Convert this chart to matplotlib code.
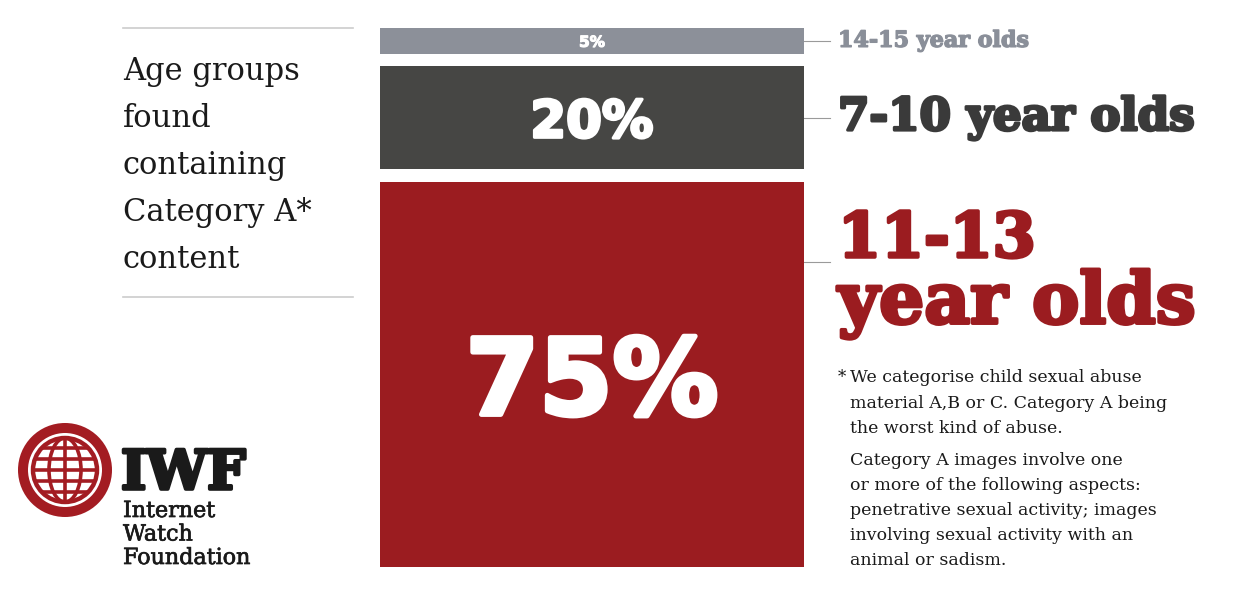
import matplotlib.pyplot as plt
import matplotlib.patheffects as pe
from matplotlib.patches import Circle, Ellipse
from matplotlib.transforms import blended_transform_factory

# age groups, listed top to bottom of the stacked bar
groups = ['14-15 year olds', '7-10 year olds', '11-13 year olds']
shares = [5, 20, 75]
bar_colors = ['#8c9099', '#464644', '#9b1c20']
label_colors = ['#8a8f99', '#3a3a3a', '#9b1c20']

title_lines = ['Age groups', 'found', 'containing', 'Category A*', 'content']
note_1 = ['We categorise child sexual abuse',
          'material A,B or C. Category A being',
          'the worst kind of abuse.']
note_2 = ['Category A images involve one',
          'or more of the following aspects:',
          'penetrative sexual activity; images',
          'involving sexual activity with an',
          'animal or sadism.']

W, H = 1260, 600
GAP = 2.5
SERIF = 'DejaVu Serif'


def heavy(color, w):
    # thicken the bold face a little
    return [pe.Stroke(linewidth=w, foreground=color, joinstyle='round'),
            pe.Normal()]


fig = plt.figure(figsize=(W / 100, H / 100), dpi=100)
fig.patch.set_facecolor('white')

# overlay in pixel units for the text, rules and logo
ov = fig.add_axes([0, 0, 1, 1])
ov.set_xlim(0, W)
ov.set_ylim(H, 0)
ov.axis('off')

# the stacked bar
bx0, bx1, by0, by1 = 380, 804, 28, 567
ax = fig.add_axes([bx0 / W, 1 - by1 / H, (bx1 - bx0) / W, (by1 - by0) / H])
total = sum(shares) + GAP * (len(shares) - 1)
ax.set_xlim(-0.5, 0.5)
ax.set_ylim(0, total)
ax.axis('off')

bottoms = []
b = 0
for v in reversed(shares):
    bottoms.insert(0, b)
    b += v + GAP

pct_sizes = [11, 37, 76]
pct_stroke = [0.8, 2.2, 3.5]
for v, b, c, fs, sw in zip(shares, bottoms, bar_colors, pct_sizes, pct_stroke):
    ax.bar(0, v, bottom=b, width=1.0, color=c, linewidth=0)
    ax.text(0, b + v / 2, f'{v}%', ha='center', va='center_baseline',
            color='white', fontsize=fs, fontweight='bold',
            family='DejaVu Sans', path_effects=heavy('white', sw))

# right-hand labels with short connector lines
tr = blended_transform_factory(ov.transData, ax.transData)
label_y = [bottoms[0] + shares[0] / 2, bottoms[1] + shares[1] / 2,
           bottoms[2] + shares[2] - 15.5]
for i, (g, y) in enumerate(zip(groups, label_y)):
    c = label_colors[i]
    ov.plot([bx1, 830], [y, y], transform=tr, color='#9a9a9a', lw=0.8,
            clip_on=False)
    if i == 0:
        ov.text(838, y, g, transform=tr, ha='left', va='center',
                color=c, fontsize=16, fontweight='bold',
                family=SERIF, path_effects=heavy(c, 1.0))
    elif i == 1:
        ov.text(838, y, g, transform=tr, ha='left', va='center',
                color=c, fontsize=32.5, fontweight='bold',
                family=SERIF, path_effects=heavy(c, 2.2))
    else:
        first, rest = g.split(' ', 1)
        ov.text(838, y + 0.9, first, transform=tr, ha='left', va='baseline',
                color=c, fontsize=44.5, fontweight='bold',
                family=SERIF, path_effects=heavy(c, 2.6))
        ov.text(838, y - 12.0, rest, transform=tr, ha='left', va='baseline',
                color=c, fontsize=51, fontweight='bold',
                family=SERIF, path_effects=heavy(c, 2.6))

# left heading between two rules
for ry in (28, 297):
    ov.plot([123, 353], [ry, ry], color='#cccccc', lw=1.2)
for k, line in enumerate(title_lines):
    ov.text(123, 80 + 47 * k, line, ha='left', va='baseline',
            color='#1a1a1a', fontsize=22, family=SERIF)

# footnote
ov.text(838, 382, '*', ha='left', va='baseline', color='#1a1a1a',
        fontsize=12, family=SERIF)
for k, line in enumerate(note_1):
    ov.text(850, 382 + 25.5 * k, line, ha='left', va='baseline',
            color='#1a1a1a', fontsize=12.5, family=SERIF)
for k, line in enumerate(note_2):
    ov.text(850, 465 + 25 * k, line, ha='left', va='baseline',
            color='#1a1a1a', fontsize=12.5, family=SERIF)

# IWF logo: ring with a globe inside
red = '#a31c22'
cx, cy = 65, 470
ov.add_patch(Circle((cx, cy), 42, fill=False, ec=red, lw=7.2))
globe = Circle((cx, cy), 32, fill=False, ec=red, lw=3.2)
ov.add_patch(globe)
for dy in (-22, -11, 0, 11, 22):
    ln, = ov.plot([cx - 34, cx + 34], [cy + dy, cy + dy], color=red, lw=2.6)
    ln.set_clip_path(globe)
ln, = ov.plot([cx, cx], [cy - 34, cy + 34], color=red, lw=2.6)
ln.set_clip_path(globe)
ov.add_patch(Ellipse((cx, cy), 32, 64, fill=False, ec=red, lw=2.6))

ov.text(121, 489, 'IWF', ha='left', va='baseline', color='#1a1a1a',
        fontsize=39, fontweight='bold', family=SERIF,
        path_effects=heavy('#1a1a1a', 2.6))
for k, line in enumerate(['Internet', 'Watch', 'Foundation']):
    ov.text(123, 517 + 23.5 * k, line, ha='left', va='baseline',
            color='#1a1a1a', fontsize=16, family=SERIF,
            path_effects=heavy('#1a1a1a', 0.5))

fig.savefig('out.png', dpi=100, facecolor='white')
